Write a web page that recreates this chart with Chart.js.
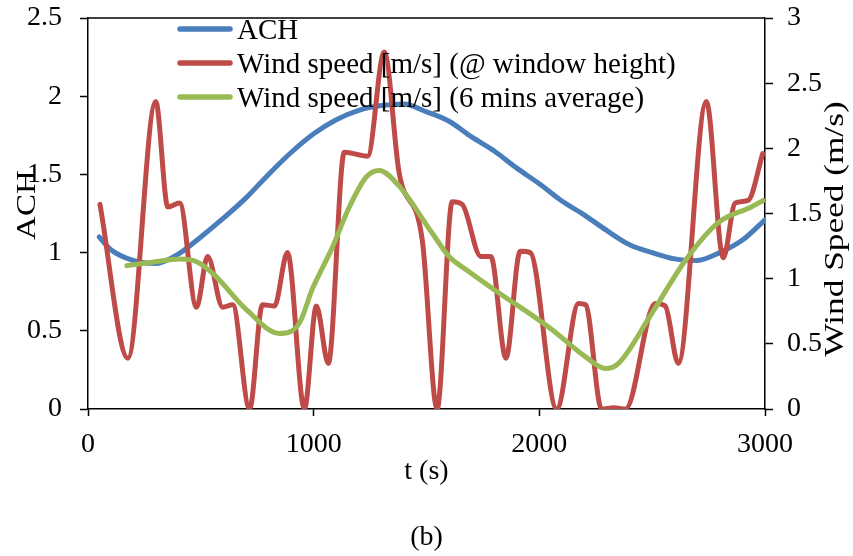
<!DOCTYPE html>
<html>
<head>
<meta charset="utf-8">
<script src="https://cdn.jsdelivr.net/npm/chart.js@4.4.1/dist/chart.umd.min.js"></script>
<style>
  html, body { margin: 0; padding: 0; background: #fff; }
  #wrap { position: relative; width: 853px; height: 556px; }
  #caption { position: absolute; left: 0; width: 853px; top: 520px; text-align: center;
             font: 28px "Liberation Serif", "Times New Roman", serif; color: #000; }
</style>
</head>
<body>
<div id="wrap">
  <canvas id="achChart" width="853" height="556"></canvas>
  <div id="caption">(b)</div>
</div>
<script>
// ACH (left axis)
const achTime = [50, 100, 200, 300, 400, 500, 600, 700, 800, 900, 1000, 1100, 1200, 1300, 1400, 1500,
                 1600, 1700, 1800, 1900, 2000, 2100, 2200, 2300, 2400, 2500, 2600, 2700, 2800, 2900, 3000];
const achValues = [1.10, 1.02, 0.95, 0.93, 0.99, 1.10, 1.22, 1.35, 1.50, 1.64, 1.76, 1.85, 1.91, 1.94, 1.95, 1.90,
                   1.84, 1.74, 1.65, 1.54, 1.44, 1.33, 1.24, 1.14, 1.05, 1.00, 0.96, 0.95, 1.00, 1.08, 1.21];

// wind speed at window height (right axis)
const windTime = [53, 177, 300, 354, 406, 481, 530, 597, 641, 716, 773, 826, 884, 959, 1012, 1065,
                  1136, 1239, 1313, 1379, 1481, 1547, 1614, 1658, 1741, 1785, 1852, 1915, 1960, 2077,
                  2174, 2205, 2276, 2330, 2382, 2514, 2558, 2616, 2740, 2815, 2868, 2925, 2990];
const windValues = [1.57, 0.39, 2.36, 1.55, 1.58, 0.78, 1.17, 0.78, 0.80, 0.00, 0.80, 0.79, 1.20, 0.00, 0.79, 0.35,
                    1.97, 1.94, 2.74, 1.81, 1.30, 0.00, 1.59, 1.57, 1.17, 1.17, 0.39, 1.21, 1.20, 0.00,
                    0.81, 0.80, 0.00, 0.01, 0.00, 0.81, 0.79, 0.35, 2.36, 1.16, 1.58, 1.60, 1.96];

// 6 mins average wind speed (right axis)
const avgTime = [172, 300, 406, 481, 553, 703, 848, 937, 994, 1083, 1158, 1233, 1290, 1379, 1525, 1600,
                 1675, 1821, 1967, 2055, 2205, 2293, 2351, 2497, 2647, 2793, 2939, 2992];
const avgValues = [1.10, 1.13, 1.15, 1.13, 1.04, 0.76, 0.58, 0.66, 0.92, 1.24, 1.55, 1.78, 1.83, 1.71, 1.35, 1.17,
                   1.07, 0.89, 0.72, 0.61, 0.40, 0.31, 0.35, 0.73, 1.14, 1.43, 1.55, 1.60];

const seriesLabels = ["ACH", "Wind speed [m/s] (@ window height)", "Wind speed [m/s] (6 mins average)"];
const seriesColors = ["#4A7EBB", "#BE4B48", "#98B954"];

function points(xs, ys) {
    return xs.map((x, i) => ({ x: x, y: ys[i] }));
}

const serif = '"Liberation Serif", "Times New Roman", serif';
Chart.defaults.font.family = serif;
Chart.defaults.font.size = 28;
Chart.defaults.color = "#000";

// rotated title, stretched along its length like the original
function sideTitle(ctx, text, x, y, stretch) {
    ctx.save();
    ctx.translate(x, y);
    ctx.rotate(-Math.PI / 2);
    ctx.scale(stretch, 1);
    ctx.textAlign = "center";
    ctx.textBaseline = "alphabetic";
    ctx.fillText(text, 0, 0);
    ctx.restore();
}

// legend inside the plot, axis titles read bottom-to-top, top frame line
const overlay = {
    id: "overlay",
    afterDraw(chart) {
        const ctx = chart.ctx;
        const a = chart.chartArea;
        ctx.save();
        ctx.strokeStyle = "#000";
        ctx.lineWidth = 1.5;
        ctx.beginPath();
        ctx.moveTo(a.left, a.top);
        ctx.lineTo(a.right, a.top);
        ctx.stroke();

        ctx.font = "29px " + serif;
        ctx.textBaseline = "alphabetic";
        ctx.fillStyle = "#000";
        seriesLabels.forEach((label, i) => {
            const y = 29 + i * 34;
            ctx.strokeStyle = seriesColors[i];
            ctx.lineWidth = 5.5;
            ctx.lineCap = "round";
            ctx.beginPath();
            ctx.moveTo(180, y);
            ctx.lineTo(230, y);
            ctx.stroke();
            ctx.fillText(label, 237, y + 10);
        });

        ctx.font = "28px " + serif;
        sideTitle(ctx, "ACH", 35, 205, 1.18);
        sideTitle(ctx, "Wind Speed (m/s)", 843, 229, 1.26);
        ctx.restore();
    },
};

const tickText = (v) => String(Math.round(v * 10) / 10);

// fixed side widths, no extra label overflow above the plot
const sideFit = (s) => { s.width = 88; s.paddingTop = 0; s.paddingBottom = 0; };

new Chart(document.getElementById("achChart"), {
    type: "line",
    data: {
        datasets: [
            {
                label: seriesLabels[0],
                data: points(achTime, achValues),
                borderColor: seriesColors[0],
                yAxisID: "y",
                order: 2,
            },
            {
                label: seriesLabels[1],
                data: points(windTime, windValues),
                borderColor: seriesColors[1],
                yAxisID: "y1",
                order: 1,
            },
            {
                label: seriesLabels[2],
                data: points(avgTime, avgValues),
                borderColor: seriesColors[2],
                yAxisID: "y1",
                order: 0,
            },
        ],
    },
    options: {
        responsive: false,
        animation: false,
        layout: { padding: { top: 18, left: 0, right: 0, bottom: 0 } },
        elements: {
            point: { radius: 0 },
            line: { borderWidth: 5, cubicInterpolationMode: "monotone", borderCapStyle: "round" },
        },
        scales: {
            x: {
                type: "linear",
                min: 0,
                max: 3000,
                afterFit: (s) => { s.height = 147; s.paddingLeft = 0; s.paddingRight = 0; },
                ticks: { stepSize: 1000, padding: 12, maxRotation: 0, callback: (v) => String(v) },
                grid: { drawOnChartArea: false, tickLength: 7, tickColor: "#000", tickWidth: 1.5 },
                border: { color: "#000", width: 1.5 },
                title: { display: true, text: "t (s)", padding: { top: 0, bottom: 68 } },
            },
            y: {
                position: "left",
                min: 0,
                max: 2.5,
                afterFit: sideFit,
                ticks: { stepSize: 0.5, padding: 18, callback: tickText },
                grid: { drawOnChartArea: false, tickLength: 8, tickColor: "#000", tickWidth: 1.5 },
                border: { color: "#000", width: 1.5 },
            },
            y1: {
                position: "right",
                min: 0,
                max: 3,
                afterFit: sideFit,
                ticks: { stepSize: 0.5, padding: 14, callback: tickText },
                grid: { drawOnChartArea: false, tickLength: 8, tickColor: "#000", tickWidth: 1.5 },
                border: { color: "#000", width: 1.5 },
            },
        },
        plugins: {
            legend: { display: false },
            tooltip: { enabled: false },
        },
    },
    plugins: [overlay],
});
</script>
</body>
</html>
